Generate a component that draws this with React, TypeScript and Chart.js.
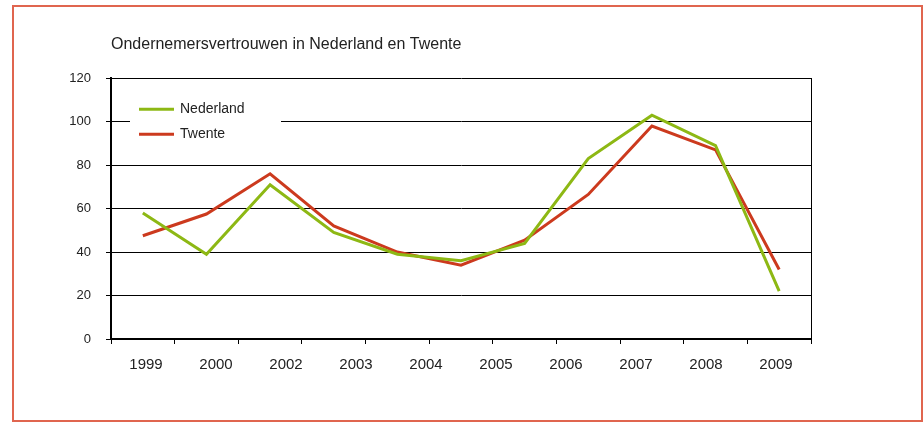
import React, { useEffect, useRef } from "react";
import { Chart, registerables } from "chart.js";

Chart.register(...registerables);

// ---- data ----
const chartTitle = "Ondernemersvertrouwen in Nederland en Twente";
const yearLabels = ["1999", "2000", "2002", "2003", "2004", "2005", "2006", "2007", "2008", "2009"];
const periods = ["p1", "p2", "p3", "p4", "p5", "p6", "p7", "p8", "p9", "p10", "p11"];
const nederland = [58, 39, 71, 49, 39, 36, 44, 83, 103, 89, 22];
const twente = [47.5, 57.5, 76, 52, 40, 34, 45.5, 66.5, 98, 87, 32];
const seriesNames = ["Nederland", "Twente"];
const seriesColors = ["#8db814", "#cc3a1e"];
const yMin = 0;
const yMax = 120;
const yStep = 20;

const FONT = 'Arial, "Liberation Sans", Helvetica, sans-serif';
const TEXT = "#222222";

const insideLegend = {
  id: "insideLegend",
  beforeDatasetsDraw(chart: any) {
    const { ctx, chartArea } = chart;
    const x0 = chartArea.left + 19;
    const y0 = chartArea.top + 17;
    ctx.save();
    ctx.fillStyle = "#ffffff";
    ctx.fillRect(x0, y0, 151, 53);
    ctx.font = `14px ${FONT}`;
    ctx.textBaseline = "middle";
    ctx.textAlign = "left";
    chart.data.datasets.forEach((ds: any, i: number) => {
      const y = y0 + 14 + i * 25;
      ctx.strokeStyle = ds.borderColor;
      ctx.lineWidth = 3;
      ctx.beginPath();
      ctx.moveTo(x0 + 9, y);
      ctx.lineTo(x0 + 44, y);
      ctx.stroke();
      ctx.fillStyle = TEXT;
      ctx.fillText(ds.label, x0 + 50, y);
    });
    ctx.restore();
  },
};

export default function App() {
  const ref = useRef<HTMLCanvasElement | null>(null);

  useEffect(() => {
    if (!ref.current) return;
    const chart = new Chart(ref.current, {
      type: "line",
      data: {
        labels: periods,
        datasets: [
          {
            label: seriesNames[0],
            data: nederland,
            borderColor: seriesColors[0],
            backgroundColor: seriesColors[0],
            borderWidth: 3,
            pointRadius: 0,
            tension: 0,
            borderJoinStyle: "miter",
            xAxisID: "x",
            yAxisID: "y",
          },
          {
            label: seriesNames[1],
            data: twente,
            borderColor: seriesColors[1],
            backgroundColor: seriesColors[1],
            borderWidth: 3,
            pointRadius: 0,
            tension: 0,
            borderJoinStyle: "miter",
            xAxisID: "x",
            yAxisID: "y",
          },
        ],
      },
      options: {
        responsive: false,
        animation: false,
        layout: { padding: { left: 0, right: 112, top: 35, bottom: 36 } },
        plugins: {
          legend: { display: false },
          tooltip: { enabled: false },
          title: {
            display: true,
            text: chartTitle,
            align: "start",
            fullSize: false,
            color: TEXT,
            font: { family: FONT, size: 16, weight: "normal" },
            padding: { top: 0, bottom: 24 },
          },
        },
        scales: {
          x: {
            type: "category",
            position: "bottom",
            weight: 0,
            offset: true,
            ticks: { display: false },
            grid: {
              display: true,
              drawOnChartArea: false,
              drawTicks: true,
              tickLength: 5,
              color: "#000000",
              lineWidth: 1,
              offset: true,
            },
            border: { display: true, color: "#000000", width: 2 },
          },
          xl: {
            type: "category",
            position: "bottom",
            weight: 1,
            labels: yearLabels,
            offset: true,
            grid: { display: false, drawTicks: false },
            border: { display: false },
            ticks: {
              color: TEXT,
              padding: 12,
              maxRotation: 0,
              autoSkip: false,
              font: { family: FONT, size: 15 },
            },
          },
          y: {
            type: "linear",
            position: "left",
            min: yMin,
            max: yMax,
            ticks: {
              stepSize: yStep,
              color: TEXT,
              padding: 15,
              font: { family: FONT, size: 13 },
            },
            grid: {
              color: "#000000",
              lineWidth: 1,
              drawTicks: true,
              tickLength: 5,
            },
            border: { display: true, color: "#000000", width: 2 },
            afterFit: (s: any) => {
              s.width = 111;
            },
          },
          y2: {
            type: "linear",
            position: "right",
            min: yMin,
            max: yMax,
            ticks: { display: false },
            grid: { display: false, drawTicks: false },
            border: { display: true, color: "#000000", width: 1 },
            afterFit: (s: any) => {
              s.width = 0;
            },
          },
        },
      },
      plugins: [insideLegend],
    } as any);
    return () => chart.destroy();
  }, []);

  return (
    <div style={{ position: "absolute", left: 0, top: 0, width: 923, height: 422, background: "#ffffff" }}>
      <canvas ref={ref} width={923} height={422} style={{ display: "block", width: 923, height: 422 }} />
      <div
        style={{
          position: "absolute",
          left: 12,
          top: 5,
          width: 907,
          height: 413,
          border: "2px solid #e0654f",
          pointerEvents: "none",
        }}
      />
    </div>
  );
}
